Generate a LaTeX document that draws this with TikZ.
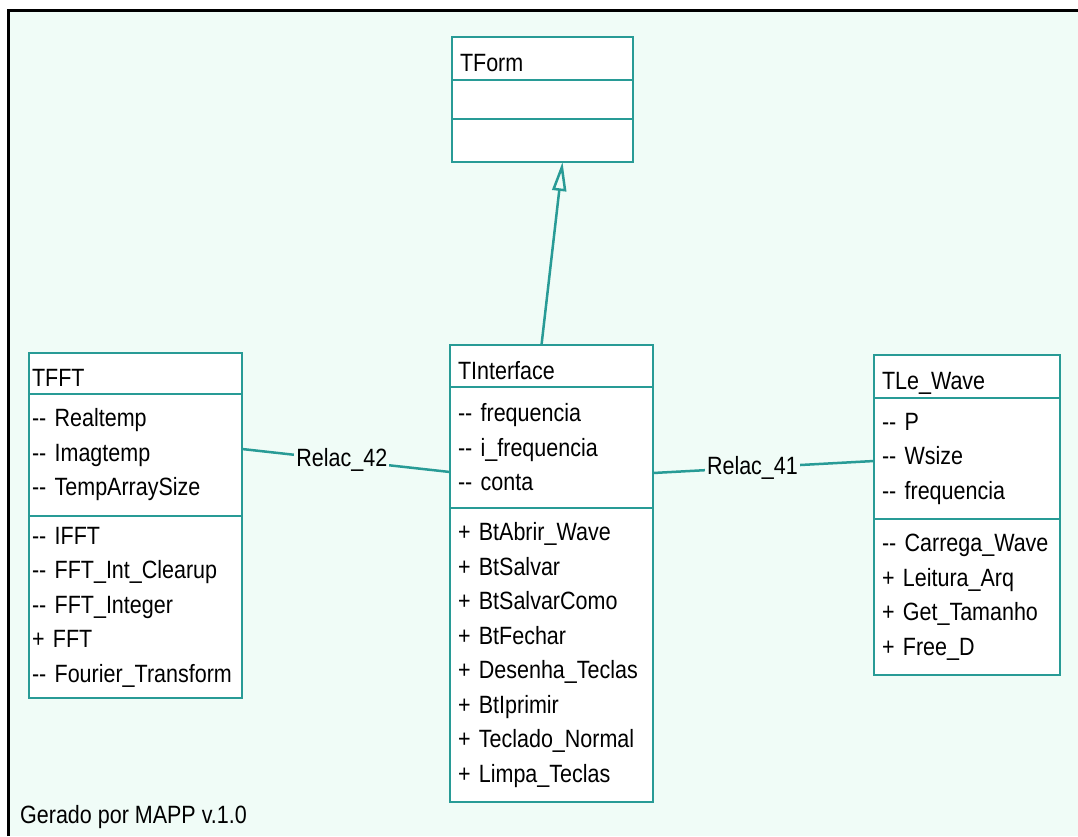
\documentclass[tikz,border=0pt]{standalone}
\usepackage{fontspec}
\setmainfont[FakeStretch=0.86]{Liberation Sans}
\usetikzlibrary{positioning,arrows.meta}
\definecolor{mint}{RGB}{240,252,247}
\definecolor{umlteal}{RGB}{40,155,150}
\tikzset{
  umlfont/.style = {font=\fontsize{25}{34.5}\selectfont},
  clsbox/.style = {draw=umlteal, line width=2.5pt, fill=white, outer sep=0pt,
    inner xsep=8pt, inner ysep=0pt, align=left, text width=#1, umlfont},
  clshead/.style = {clsbox=#1, text height=26pt, text depth=0pt},
  relac/.style = {draw=umlteal, line width=2.5pt},
  relaclabel/.style = {fill=mint, inner xsep=2pt, inner ysep=1pt, umlfont}
}

\begin{document}
\begin{tikzpicture}[x=1pt,y=-1pt]
  % frame
  \useasboundingbox (0,0) rectangle (1078,836);
  \fill[white] (0,0) rectangle (1078,836);
  \fill[mint] (8.5,10) rectangle (1078,836);
  \draw[line width=3pt] (8.5,836) -- (8.5,10) -- (1078,10);
  % TForm
  \node[clshead=165pt, minimum height=43pt, anchor=north west] (tform) at (452,37) {TForm};
  \node[clsbox=165pt, minimum height=39pt, below=0pt of tform] (tformA) {};
  \node[clsbox=165pt, minimum height=43pt, below=0pt of tformA] (tformM) {};
  % TFFT
  \node[clshead=207pt, inner xsep=3pt, minimum height=41pt, anchor=north west] (tfft) at (29,353) {TFFT};
  \node[clsbox=207pt, inner xsep=3pt, minimum height=122pt, below=0pt of tfft] (tfftA)
    {-{}- Realtemp\\-{}- Imagtemp\\-{}- TempArraySize};
  \node[clsbox=207pt, inner xsep=3pt, minimum height=182pt, below=0pt of tfftA] (tfftM)
    {-{}- IFFT\\-{}- FFT\_Int\_Clearup\\-{}- FFT\_Integer\\+ FFT\\-{}- Fourier\_Transform};
  % TInterface
  \node[clshead=187pt, minimum height=42pt, anchor=north west] (tiface) at (450,345) {TInterface};
  \node[clsbox=187pt, minimum height=121pt, below=0pt of tiface] (tifaceA)
    {-{}- frequencia\\-{}- i\_frequencia\\-{}- conta};
  \node[clsbox=187pt, minimum height=294pt, below=0pt of tifaceA] (tifaceM)
    {+ BtAbrir\_Wave\\+ BtSalvar\\+ BtSalvarComo\\+ BtFechar\\+ Desenha\_Teclas\\+ BtIprimir\\+ Teclado\_Normal\\+ Limpa\_Teclas};
  % TLe_Wave
  \node[clshead=170pt, minimum height=43pt, anchor=north west] (tle) at (874,355) {TLe\_Wave};
  \node[clsbox=170pt, minimum height=121pt, below=0pt of tle] (tleA)
    {-{}- P\\-{}- Wsize\\-{}- frequencia};
  \node[clsbox=170pt, minimum height=156pt, below=0pt of tleA] (tleM)
    {-{}- Carrega\_Wave\\+ Leitura\_Arq\\+ Get\_Tamanho\\+ Free\_D};
  % inheritance
  \draw[relac, -{Triangle[open, length=29pt, width=14pt]}]
    ([xshift=-10pt]tiface.north) -- ([xshift=20pt]tformM.south);
  % relations
  \draw[relac] ([yshift=6pt]tfftA.east) -- node[relaclabel, pos=0.48] (r42) {Relac\_42}
    ([yshift=-24.5pt]tifaceA.west);
  \draw[relac] ([yshift=-25.5pt]tifaceA.east) -- node[relaclabel, pos=0.45] (r41) {Relac\_41}
    ([yshift=-2.5pt]tleA.west);
  % footer
  \node[umlfont, anchor=base west, inner sep=0pt] (gerado) at (20,823) {Gerado por MAPP v.1.0};
\end{tikzpicture}
\end{document}
